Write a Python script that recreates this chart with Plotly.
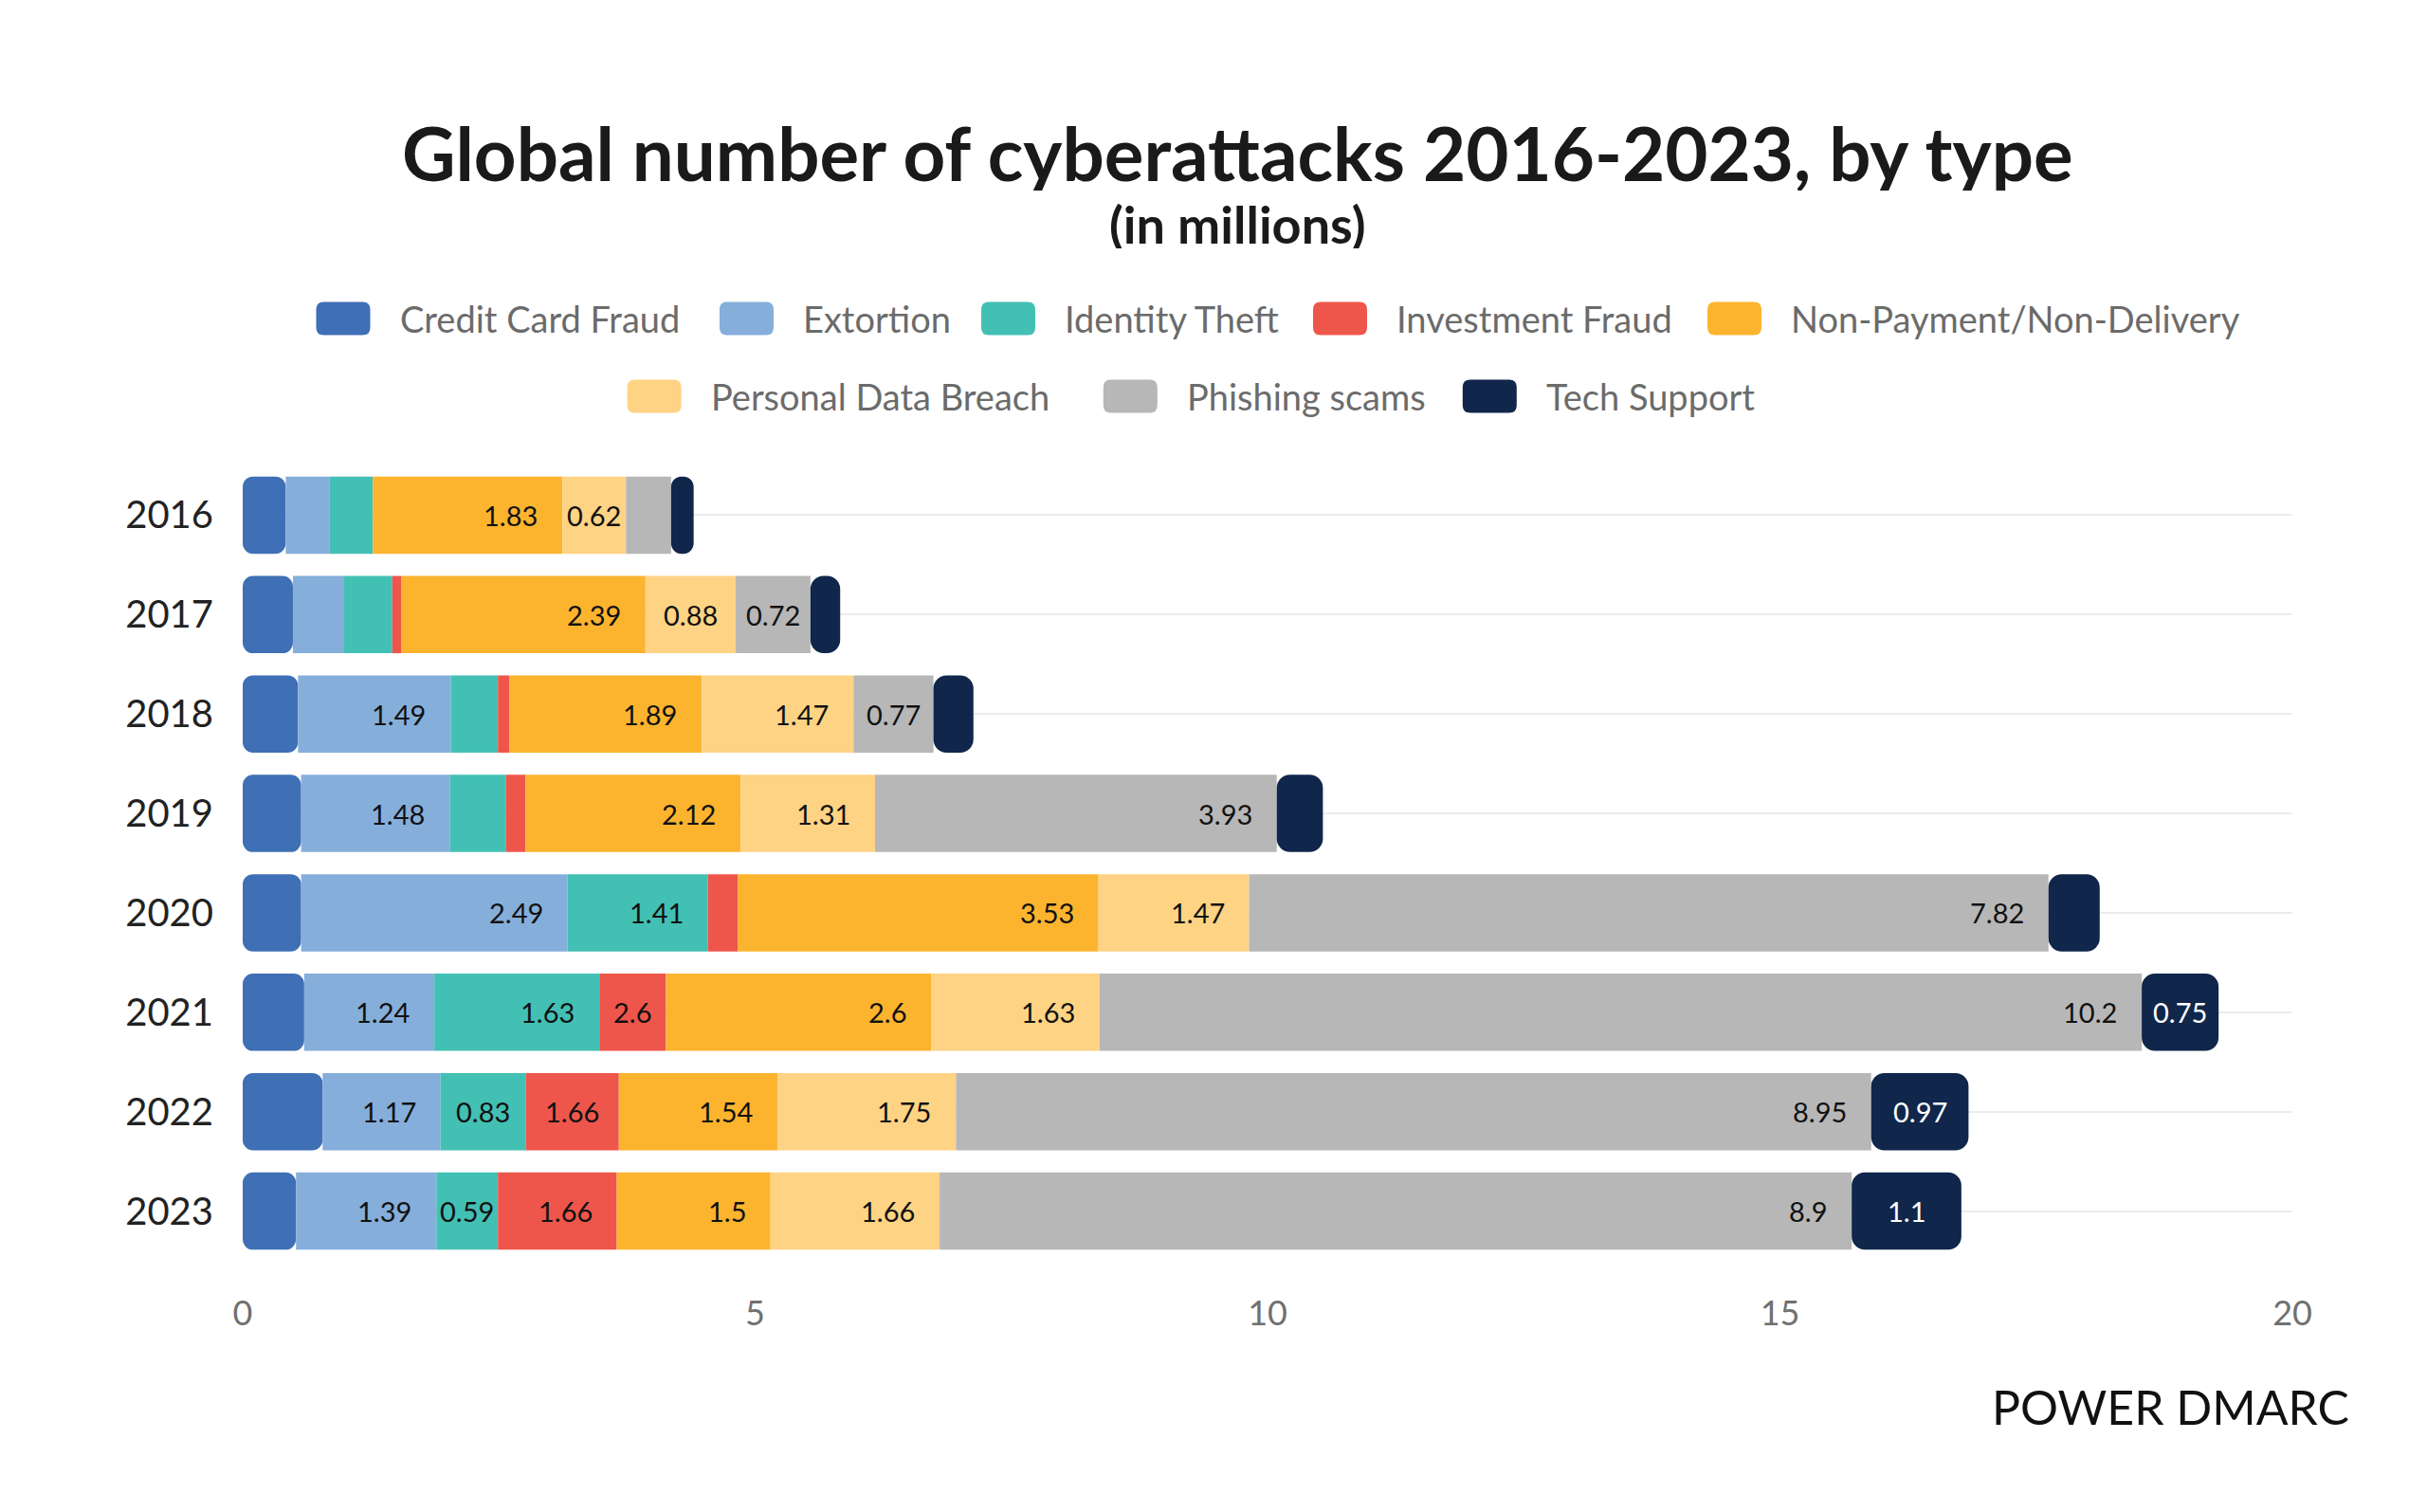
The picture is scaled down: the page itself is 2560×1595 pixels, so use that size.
import plotly.graph_objects as go

# ---------------- data ----------------
years = ["2016", "2017", "2018", "2019", "2020", "2021", "2022", "2023"]
series_names = ["Credit Card Fraud", "Extortion", "Identity Theft", "Investment Fraud",
                "Non-Payment/Non-Delivery", "Personal Data Breach", "Phishing scams", "Tech Support"]

# segment sizes (millions)
credit_card_fraud = [0.42, 0.49, 0.54, 0.57, 0.57, 0.60, 0.78, 0.52]
extortion = [0.43, 0.50, 1.49, 1.45, 2.60, 1.27, 1.15, 1.37]
identity_theft = [0.42, 0.47, 0.46, 0.55, 1.37, 1.61, 0.83, 0.60]
investment_fraud = [0.00, 0.09, 0.11, 0.19, 0.29, 0.65, 0.91, 1.16]
non_payment = [1.85, 2.38, 1.88, 2.10, 3.52, 2.59, 1.55, 1.50]
personal_data = [0.62, 0.88, 1.48, 1.31, 1.47, 1.64, 1.74, 1.65]
phishing = [0.44, 0.73, 0.78, 3.92, 7.80, 10.17, 8.93, 8.90]
tech_support = [0.22, 0.29, 0.39, 0.45, 0.50, 0.75, 0.95, 1.07]

# data labels as printed on the chart ("" = no label)
credit_card_labels = ["", "", "", "", "", "", "", ""]
extortion_labels = ["", "", "1.49", "1.48", "2.49", "1.24", "1.17", "1.39"]
identity_labels = ["", "", "", "", "1.41", "1.63", "0.83", "0.59"]
investment_labels = ["", "", "", "", "", "2.6", "1.66", "1.66"]
non_payment_labels = ["1.83", "2.39", "1.89", "2.12", "3.53", "2.6", "1.54", "1.5"]
personal_data_labels = ["0.62", "0.88", "1.47", "1.31", "1.47", "1.63", "1.75", "1.66"]
phishing_labels = ["", "0.72", "0.77", "3.93", "7.82", "10.2", "8.95", "8.9"]
tech_labels = ["", "", "", "", "", "0.75", "0.97", "1.1"]

x_ticks = [0, 5, 10, 15, 20]

# ---------------- styles ----------------
colors = ["#3F6FB5", "#85AEDB", "#43C0B4", "#EF564B", "#FCB42F", "#FED384", "#B7B7B7", "#10264A"]
all_values = [credit_card_fraud, extortion, identity_theft, investment_fraud,
              non_payment, personal_data, phishing, tech_support]
all_labels = [credit_card_labels, extortion_labels, identity_labels, investment_labels,
              non_payment_labels, personal_data_labels, phishing_labels, tech_labels]

# the page body adds an 8px margin, so the figure is 8px smaller and
# all layout coordinates below are in figure pixels
W, H = 2552, 1587
L, R, T, B = 248, 2410, 483, 1322
PX_PER_UNIT = (R - L) / 20.0
FONT = "Lato, 'Open Sans', sans-serif"


def px_x(x):
    return (x - L) / (R - L)


def px_y(y):
    return (B - y) / (B - T)


fig = go.Figure()
annotations = []
shapes = []

cum = [0.0] * len(years)
n = len(series_names)
for i, (name, vals, labs, col) in enumerate(zip(series_names, all_values, all_labels, colors)):
    base = cum[:]
    if i == 0:
        # drawn from its end back to zero so that the rounded end sits at the left
        fig.add_trace(go.Bar(
            y=years, x=[-v for v in vals], base=vals, orientation="h", name=name,
            marker=dict(color=col, cornerradius=11, line=dict(width=0)),
            showlegend=False, hoverinfo="skip"))
    else:
        fig.add_trace(go.Bar(
            y=years, x=vals, base=base, orientation="h", name=name,
            marker=dict(color=col, cornerradius=(14 if i == n - 1 else 0), line=dict(width=0)),
            showlegend=False, hoverinfo="skip"))
    for j, lab in enumerate(labs):
        if not lab:
            continue
        start, end = base[j], base[j] + vals[j]
        seg_px = vals[j] * PX_PER_UNIT
        text_px = 15 * len(lab)
        tcolor = "#FFFFFF" if i == n - 1 else "#111111"
        # y given as category index j (position of years[j] on the category axis)
        if i == n - 1 or seg_px - text_px < 50:
            annotations.append(dict(x=(start + end) / 2, y=j, xref="x", yref="y",
                                    text=lab, showarrow=False, xanchor="center", yanchor="middle",
                                    font=dict(family=FONT, size=29, color=tcolor)))
        else:
            annotations.append(dict(x=end, y=j, xref="x", yref="y",
                                    text=lab, showarrow=False, xanchor="right", yanchor="middle",
                                    xshift=-24, font=dict(family=FONT, size=29, color=tcolor)))
    cum = [c + v for c, v in zip(cum, vals)]

# ---------------- title ----------------
annotations.append(dict(x=px_x(1297), y=px_y(153), xref="paper", yref="paper", showarrow=False,
                        text="<b>Global number of cyberattacks 2016-2023, by type</b>",
                        xanchor="center", yanchor="middle", height=80, valign="middle",
                        font=dict(family=FONT, size=78, color="#1a1a1a")))
annotations.append(dict(x=px_x(1297), y=px_y(228), xref="paper", yref="paper", showarrow=False,
                        text="<b>(in millions)</b>", xanchor="center", yanchor="middle",
                        height=52, valign="middle",
                        font=dict(family=FONT, size=54, color="#1a1a1a")))

# ---------------- custom legend ----------------
legend_swatch_left = [325.5, 751, 1027, 1377, 1793, 653.6, 1155.8, 1534.8]
legend_row_y = [328, 328, 328, 328, 328, 410, 410, 410]
sw_w, sw_h, sw_r = 57, 35, 8
hw, hh = sw_w / 2, sw_h / 2
sw_path = (f"M {-hw + sw_r},{-hh} L {hw - sw_r},{-hh} Q {hw},{-hh} {hw},{-hh + sw_r} "
           f"L {hw},{hh - sw_r} Q {hw},{hh} {hw - sw_r},{hh} L {-hw + sw_r},{hh} "
           f"Q {-hw},{hh} {-hw},{hh - sw_r} L {-hw},{-hh + sw_r} Q {-hw},{-hh} {-hw + sw_r},{-hh} Z")
for name, col, sx, sy in zip(series_names, colors, legend_swatch_left, legend_row_y):
    shapes.append(dict(type="path", xref="paper", yref="paper", xsizemode="pixel", ysizemode="pixel",
                       xanchor=px_x(sx + hw), yanchor=px_y(sy), path=sw_path,
                       fillcolor=col, line=dict(width=0), layer="above"))
    annotations.append(dict(x=px_x(sx + 86), y=px_y(sy), xref="paper", yref="paper", showarrow=False,
                            text=name, xanchor="left", yanchor="middle",
                            font=dict(family=FONT, size=38, color="#6b6b6b")))

# ---------------- logo ----------------
annotations.append(dict(x=px_x(2281), y=px_y(1476), xref="paper", yref="paper", showarrow=False,
                        text="POWER DMARC", xanchor="center", yanchor="middle",
                        font=dict(family=FONT, size=50, color="#111111")))

fig.update_layout(
    width=W, height=H,
    margin=dict(l=L, r=W - R, t=T, b=H - B, pad=0),
    barmode="overlay", bargap=0.222,
    paper_bgcolor="white", plot_bgcolor="white",
    showlegend=False,
    annotations=annotations, shapes=shapes,
    xaxis=dict(range=[0, 20], autorange=False, tickvals=x_ticks, ticktext=[str(t) for t in x_ticks],
               showgrid=False, zeroline=False, showline=False, ticks="",
               tickfont=dict(family=FONT, size=36, color="#707070"), ticklabelstandoff=31),
    yaxis=dict(type="category", categoryorder="array", categoryarray=years,
               range=[len(years) - 0.5, -0.5], autorange=False,
               showgrid=True, gridcolor="#ececec", gridwidth=2, zeroline=False, showline=False,
               ticks="", tickfont=dict(family=FONT, size=40, color="#222222"), ticklabelstandoff=30),
)

fig.write_html("out.html")
